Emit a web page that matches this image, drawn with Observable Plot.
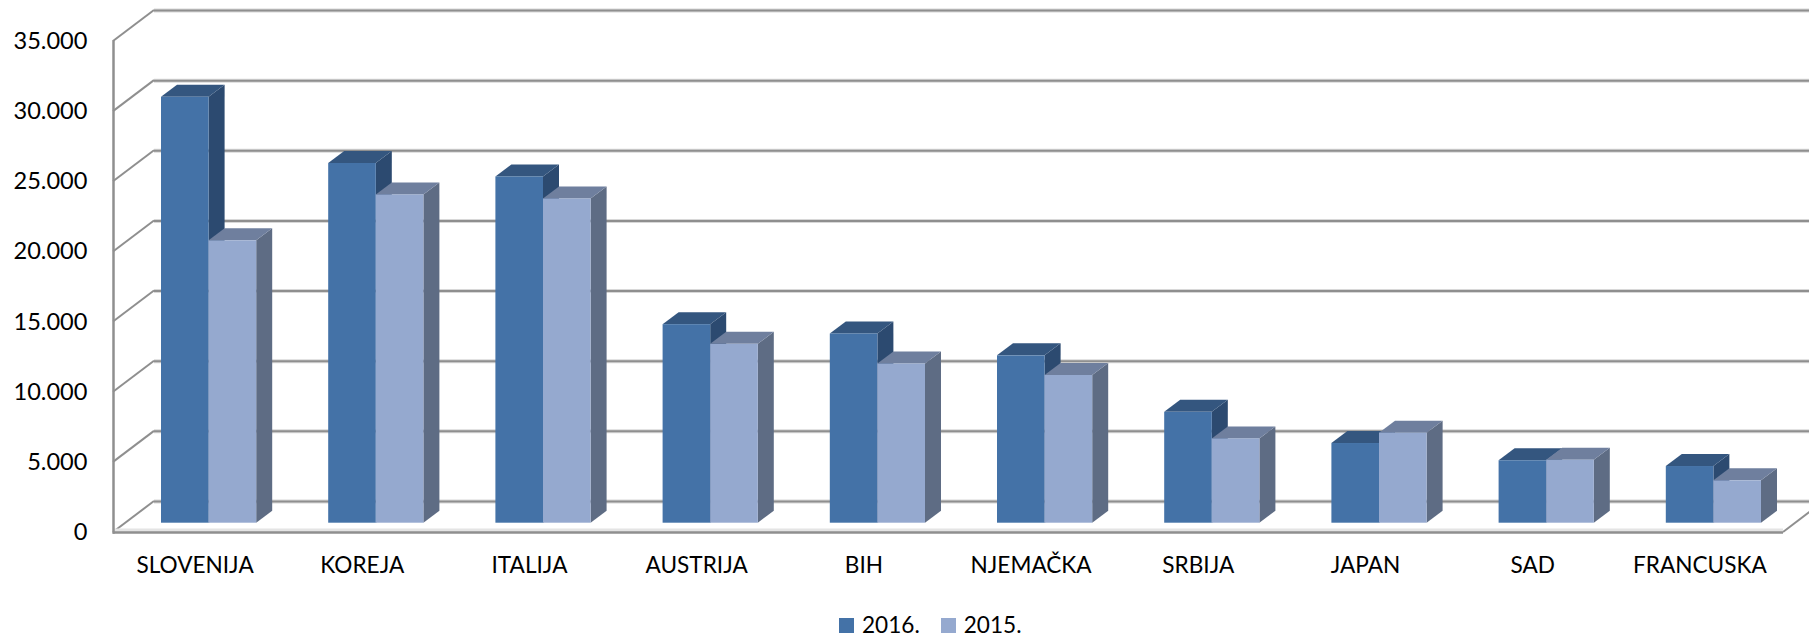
<!DOCTYPE html>
<html>
<head>
<meta charset="utf-8">
<script src="https://cdn.jsdelivr.net/npm/d3@7"></script>
<script src="https://cdn.jsdelivr.net/npm/@observablehq/plot@0.6"></script>
<style>
html,body{margin:0;padding:0;background:#fff;overflow:hidden}
svg{display:block;max-width:none}
#legend{height:26px;position:relative;font:22.6px Lato,sans-serif;color:#000;display:flex;align-items:center;padding-left:839px;box-sizing:border-box}
#legend i{display:inline-block;width:15px;height:15px;margin-right:8px}
#legend span{margin-right:21px;line-height:26px}
</style>
</head>
<body>
<div id="chart"></div>
<div id="legend"></div>
<script>
const countries = ["SLOVENIJA","KOREJA","ITALIJA","AUSTRIJA","BIH","NJEMAČKA","SRBIJA","JAPAN","SAD","FRANCUSKA"];
const v2016 = [30360,25640,24680,14150,13490,11930,7900,5680,4450,4040];
const v2015 = [20130,23400,23115,12750,11350,10530,6010,6420,4490,3020];
const yTicks = [0,5000,10000,15000,20000,25000,30000,35000];
const seriesNames = ["2016.","2015."];
const colors = {front16:"#4472a7",side16:"#2c4a70",top16:"#34567f",front15:"#95a9cf",side15:"#5e6c84",top15:"#6f7f9e",grid:"#8f8f8f"};

const depth = {dx:41,dy:-31};        // wall depth
const bar = {dx:16,dy:-12};          // bar depth
const floorInset = 2;
const fmt = d3.formatLocale({decimal:",",thousands:".",grouping:[3],currency:["",""]}).format(",d");

function box(sideFill, topFill){
  return function(index, scales, values, dims, ctx, next){
    const g = next(index, scales, values, dims, ctx);
    const sel = d3.select(g);
    const rects = sel.selectAll("rect").nodes();
    rects.forEach(r=>{
      const x=+r.getAttribute("x"),y=+r.getAttribute("y"),w=+r.getAttribute("width"),h=+r.getAttribute("height");
      const side=d3.create("svg:polygon").attr("fill",sideFill)
        .attr("points",[[x+w,y],[x+w+bar.dx,y+bar.dy],[x+w+bar.dx,y+h+bar.dy],[x+w,y+h]].join(" ")).node();
      const top=d3.create("svg:polygon").attr("fill",topFill)
        .attr("points",[[x,y],[x+bar.dx,y+bar.dy],[x+w+bar.dx,y+bar.dy],[x+w,y]].join(" ")).node();
      r.parentNode.insertBefore(side,r);
      r.parentNode.insertBefore(top,r);
    });
    return g;
  };
}
function connectors(index, scales, values, dims, ctx){
  const g=d3.create("svg:g").attr("stroke",colors.grid).attr("stroke-width",2).attr("fill","none");
  const L=dims.marginLeft, R=dims.width-dims.marginRight-floorInset;
  for(const i of index){
    const y=values.y[i];
    g.append("line").attr("x1",L).attr("y1",y).attr("x2",L+depth.dx).attr("y2",y+depth.dy);
  }
  const y0=scales.y(0);
  g.append("line").attr("x1",R).attr("y1",y0).attr("x2",R+depth.dx).attr("y2",y0+depth.dy);
  return g.node();
}

const band=167.2, w=47.6, inL=48;
const chart = Plot.plot({
  width:1809,height:612,marginLeft:113,marginRight:24,marginTop:41,marginBottom:80,
  style:{fontFamily:"Lato, sans-serif",background:"#fff",color:"#000"},
  x:{type:"band",domain:countries,padding:0,round:false,label:null},
  y:{domain:[0,35000],label:null},
  marks:[
    Plot.ruleY(yTicks,{stroke:"#d8d8d8",strokeWidth:4,dx:depth.dx,dy:depth.dy}),
    Plot.ruleY(yTicks,{stroke:colors.grid,strokeWidth:2,dx:depth.dx,dy:depth.dy}),
    Plot.ruleY(yTicks,{y:d=>d,render:connectors}),
    Plot.ruleY([0],{stroke:"#e4e4e4",strokeWidth:4,dy:-2,insetRight:floorInset}),
    Plot.ruleY([0],{stroke:colors.grid,strokeWidth:2.5,insetRight:floorInset}),
    Plot.frame({anchor:"left",stroke:colors.grid,strokeWidth:2.5}),
    Plot.barY(countries,{x:countries,y:v2016,fill:colors.front16,insetLeft:inL,insetRight:band-inL-w,dy:-9.3,render:box(colors.side16,colors.top16)}),
    Plot.barY(countries,{x:countries,y:v2015,fill:colors.front15,insetLeft:inL+w,insetRight:band-inL-2*w,dy:-9.3,render:box(colors.side15,colors.top15)}),
    Plot.axisY({ticks:yTicks,tickSize:0,tickPadding:26,tickFormat:fmt,fontSize:23.6,label:null}),
    Plot.axisX({tickSize:0,tickPadding:24.5,fontSize:22.6,dx:-2,label:null})
  ]
});
document.getElementById("chart").append(chart);
const lg=document.getElementById("legend");
seriesNames.forEach((n,k)=>{
  const i=document.createElement("i");i.style.background=k?colors.front15:colors.front16;
  const s=document.createElement("span");s.textContent=n;
  lg.append(i,s);
});
</script>
</body>
</html>
